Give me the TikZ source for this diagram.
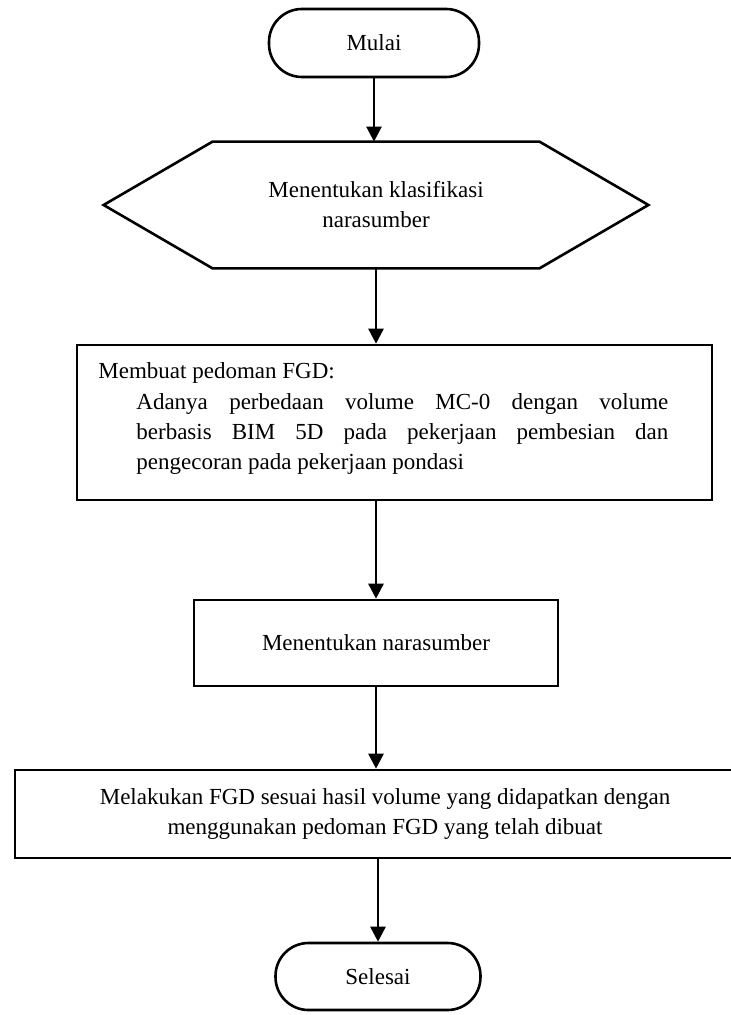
\documentclass[tikz,border=0pt]{standalone}
\usepackage{fontspec}
\setmainfont{Liberation Serif}
\usetikzlibrary{arrows.meta,calc}
\begin{document}
\begin{tikzpicture}[x=0.5pt,y=-0.5pt,
  font=\fontsize{11.5}{15}\selectfont,
  lw/.style={line width=1.3pt},
  term/.style={draw, lw, rounded corners=16.5pt, inner sep=0pt, align=center},
  proc/.style={draw, lw, rectangle, inner sep=0pt, align=center},
  txt/.style={inner sep=0pt, anchor=base west},
  arr/.style={lw, -{Triangle[length=7.5pt,width=7.5pt]}}]
\useasboundingbox (0,0) rectangle (731,1015);
\clip (0,0) rectangle (731,1015);
\fill[white] (0,0) rectangle (731,1015);

% start
\node[term, minimum width=105pt, minimum height=34pt] (mulai) at (374,43) {Mulai};

% hexagon
\node[inner sep=0pt, minimum width=272pt, minimum height=63pt, align=center] (hex) at (376,205) {Menentukan klasifikasi\\narasumber};
\draw[lw, line join=miter] (hex.west) -- ($(hex.north west)+(109,0)$) -- ($(hex.north east)+(-109,0)$) -- (hex.east) -- ($(hex.south east)+(-109,0)$) -- ($(hex.south west)+(109,0)$) -- cycle;

% FGD guide box
\node[proc, minimum width=317.5pt, minimum height=77.5pt] (box1) at (394.5,422.5) {};
\node[txt] (b1t) at (98,379) {Membuat pedoman FGD:};
\node[txt] (b1p1) at (136,409) {\makebox[266pt][s]{Adanya perbedaan volume MC-0 dengan volume}};
\node[txt] (b1p2) at (136,439) {\makebox[266pt][s]{berbasis BIM 5D pada pekerjaan pembesian dan}};
\node[txt] (b1p3) at (136,469) {pengecoran pada pekerjaan pondasi};

% narasumber box
\node[proc, minimum width=182pt, minimum height=43pt] (box2) at (376,643) {Menentukan narasumber};

% FGD execution box (clipped at the right)
\node[proc, minimum width=370pt, minimum height=44pt] (box3) at (385,814) {Melakukan FGD sesuai hasil volume yang didapatkan dengan\\menggunakan pedoman FGD yang telah dibuat};

% end
\node[term, minimum width=102.5pt, minimum height=33.5pt] (selesai) at (378,976.5) {Selesai};

% connectors
\draw[arr] (mulai.south) -- (mulai.south |- hex.north);
\draw[arr] (hex.south) -- (hex.south |- box1.north);
\draw[arr] (box2.north |- box1.south) -- (box2.north);
\draw[arr] (box2.south) -- (box2.south |- box3.north);
\draw[arr] (selesai.north |- box3.south) -- (selesai.north);
\end{tikzpicture}
\end{document}
